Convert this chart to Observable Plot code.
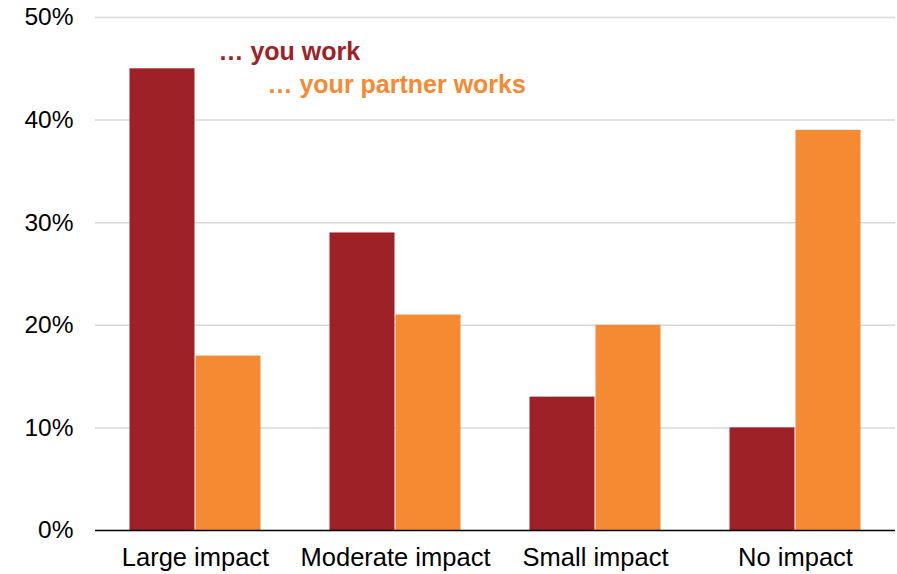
<!DOCTYPE html>
<html><head><meta charset="utf-8">
<script src="https://cdn.jsdelivr.net/npm/d3@7"></script>
<script src="https://cdn.jsdelivr.net/npm/@observablehq/plot@0.6"></script>
<style>
body{margin:0;background:#fff;font-family:"Liberation Sans",Arial,sans-serif;}
</style>
</head><body><div id="chart"></div>
<script>
const categories = ["Large impact", "Moderate impact", "Small impact", "No impact"];
const series = ["… you work", "… your partner works"];
const youWork = [45, 29, 13, 10];
const partnerWorks = [17, 21, 20, 39];
const yTicks = [0, 10, 20, 30, 40, 50];
const colors = ["#9e2128", "#f58a33"];

const data = [];
categories.forEach((c, i) => {
  data.push({cat: c, s: series[0], v: youWork[i]});
  data.push({cat: c, s: series[1], v: partnerWorks[i]});
});
const labelYou = [{cat: categories[0], s: series[1], v: 46.6, text: series[0]}];
const labelPartner = [{cat: categories[0], s: series[1], v: 43.4, text: series[1]}];

const chart = Plot.plot({
  width: 897,
  height: 574,
  marginTop: 17,
  marginBottom: 44,
  marginLeft: 94,
  marginRight: 2,
  style: {fontFamily: "'Liberation Sans', Arial, sans-serif", fontSize: "25.5px", color: "#000", background: "#fff"},
  fx: {domain: categories, padding: 0, label: null, axis: "bottom", tickSize: 0, tickPadding: 17},
  x: {domain: series, paddingInner: 0, paddingOuter: 0.5, axis: null},
  y: {domain: [0, 50], label: null, axis: null},
  color: {domain: series, range: colors},
  marks: [
    Plot.ruleY(yTicks.filter(d => d > 0), {stroke: "#d9d9d9", strokeWidth: 1.5}),
    Plot.axisY(yTicks, {tickSize: 0, tickPadding: 22, tickFormat: d => d + "%", fontSize: 24.5, label: null, facetAnchor: "left"}),
    Plot.barY(data, {fx: "cat", x: "s", y: "v", fill: "s", insetLeft: 0.5, insetRight: 0.5}),
    Plot.ruleY([0], {stroke: "#000", strokeWidth: 1.5}),
    Plot.text(labelYou, {fx: "cat", x: "s", y: "v", text: "text", fill: colors[0], dx: -10, textAnchor: "start", fontWeight: "bold", fontSize: 25}),
    Plot.text(labelPartner, {fx: "cat", x: "s", y: "v", text: "text", fill: colors[1], dx: 39, textAnchor: "start", fontWeight: "bold", fontSize: 25})
  ]
});
document.getElementById("chart").appendChild(chart);
</script>
</body></html>
